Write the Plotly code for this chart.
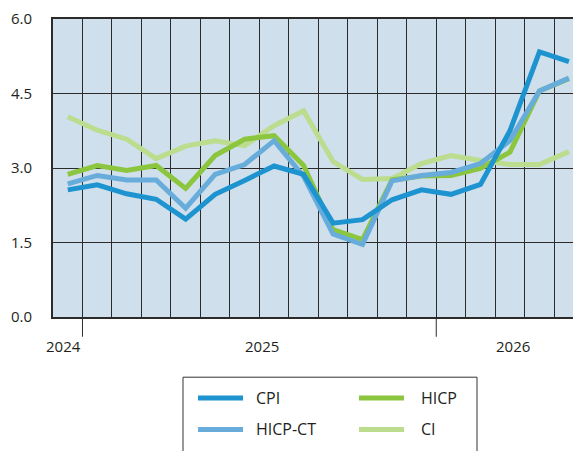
import plotly.graph_objects as go

# periods: one point per column, 18 columns
periods = list(range(18))

cpi = [2.56, 2.66, 2.48, 2.37, 1.97, 2.47, 2.75, 3.04, 2.87, 1.89,
       1.96, 2.36, 2.56, 2.47, 2.67, 3.75, 5.34, 5.14]
hicp = [2.87, 3.05, 2.95, 3.05, 2.59, 3.25, 3.58, 3.65, 3.05, 1.76,
        1.56, 2.76, 2.84, 2.85, 2.99, 3.32, 4.55, 4.80]
hicp_ct = [2.68, 2.85, 2.76, 2.76, 2.19, 2.87, 3.07, 3.55, 2.83, 1.67,
           1.46, 2.74, 2.85, 2.91, 3.09, 3.55, 4.55, 4.81]
ci = [4.03, 3.76, 3.58, 3.19, 3.44, 3.55, 3.45, 3.85, 4.15, 3.13,
      2.77, 2.79, 3.09, 3.25, 3.15, 3.07, 3.07, 3.33]

year_labels = ["2024", "2025", "2026"]
year_label_x = [-0.14, 6.59, 15.11]
year_starts = [0.5, 12.5]

y_ticks = [0.0, 1.5, 3.0, 4.5, 6.0]

FONT = "Open Sans"
TXT = "#231f20"
GRID = "#2b2b2b"

# the page body adds an 8px offset, so the figure is drawn 8px smaller
OFF = 8
W, H = 581 - OFF, 451 - OFF
ML, MR, MT, MB = 45, 0, 7, 134
PW, PH = W - ML - MR, H - MT - MB


def px(x):
    # screen pixel -> paper x
    return (x - OFF - ML) / PW


def py(y):
    # screen pixel -> paper y
    return (H - MB - (y - OFF)) / PH


series = [
    # name, values, color, legend slot (col, row)
    ("CI", ci, "#bcdc8e", (1, 1)),
    ("HICP", hicp, "#8cc63f", (1, 0)),
    ("HICP-CT", hicp_ct, "#68acdb", (0, 1)),
    ("CPI", cpi, "#1d94d0", (0, 0)),
]

fig = go.Figure()
for name, vals, color, slot in series:
    fig.add_trace(go.Scatter(
        x=periods, y=vals, name=name, mode="lines",
        line=dict(color=color, width=5),
        showlegend=False,
    ))

    # legend entry drawn by hand (box runs off the bottom of the page)
    col, row = slot
    x0 = 198 + col * 161
    yy = 399 + row * 32
    fig.add_shape(type="line", xref="paper", yref="paper",
                  x0=px(x0), x1=px(x0 + 45), y0=py(yy), y1=py(yy),
                  line=dict(color=color, width=5))
    fig.add_annotation(x=px(x0 + 56 + (4 if col else 0)), y=py(yy),
                       xref="paper", yref="paper",
                       text=name, showarrow=False,
                       xanchor="left", yanchor="middle",
                       font=dict(family=FONT, size=16, color=TXT))

fig.add_shape(type="rect", xref="paper", yref="paper",
              x0=px(183), x1=px(477), y0=py(378), y1=py(470),
              line=dict(color="#333333", width=1), layer="above")

for xs in year_starts:
    fig.add_shape(type="line", xref="x", yref="paper",
                  x0=xs, x1=xs, y0=0, y1=py(337),
                  line=dict(color=GRID, width=1))

for lab, xp in zip(year_labels, year_label_x):
    fig.add_annotation(x=xp, y=py(346), xref="x", yref="paper",
                       text=lab, showarrow=False, yanchor="middle",
                       font=dict(family=FONT, size=15, color=TXT))

fig.update_layout(
    width=W, height=H,
    margin=dict(l=ML, r=MR, t=MT, b=MB),
    paper_bgcolor="white",
    plot_bgcolor="#cfdfec",
    font=dict(family=FONT, size=15, color=TXT),
    showlegend=False,
)

fig.update_xaxes(
    range=[-0.5, 17.41],
    tick0=0.5, dtick=1,
    showgrid=True, gridcolor=GRID, gridwidth=1,
    showticklabels=False, ticks="",
    zeroline=False,
    showline=True, linecolor=GRID, linewidth=2, mirror=True,
)
fig.update_yaxes(
    range=[0, 6],
    tickvals=y_ticks, ticktext=[f"{v:.1f}" for v in y_ticks],
    showgrid=True, gridcolor=GRID, gridwidth=1,
    zeroline=False,
    showline=True, linecolor=GRID, linewidth=2,
    ticks="", ticklabelstandoff=16, ticklabeloverflow="allow",
    tickfont=dict(family=FONT, size=15, color=TXT),
)

fig.write_html("out.html")
